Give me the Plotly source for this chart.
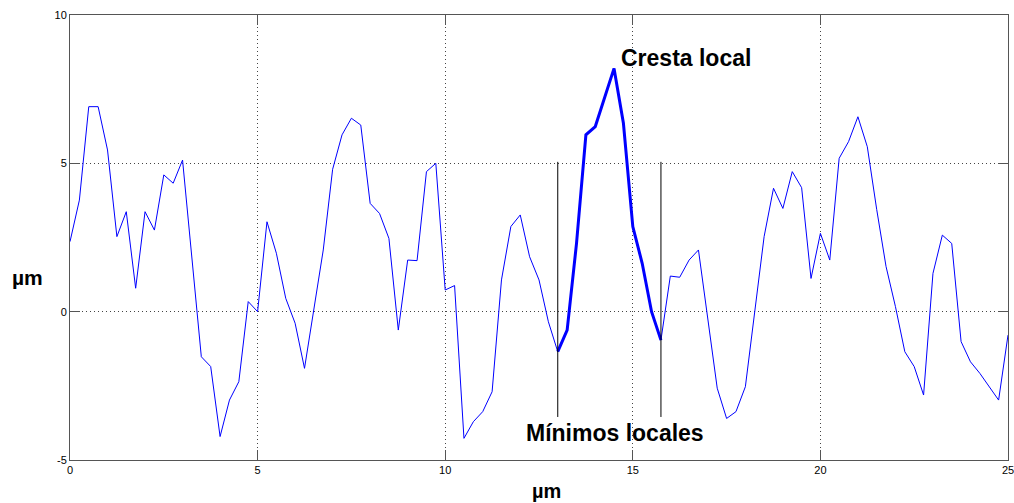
import numpy as np
import plotly.graph_objects as go

# Surface profile sampled every 0.25 µm over 25 µm
step_um = 0.25
height_um = [
    2.36, 3.76, 6.91, 6.91, 5.45, 2.53, 3.37, 0.79, 3.37, 2.75,
    4.61, 4.33, 5.11, 1.90, -1.52, -1.85, -4.21, -2.98, -2.36, 0.34,
    0.00, 3.03, 1.97, 0.45, -0.39, -1.91, 0.06, 2.08, 4.80, 5.96,
    6.52, 6.29, 3.65, 3.31, 2.47, -0.62, 1.74, 1.72, 4.72, 5.00,
    0.73, 0.88, -4.27, -3.71, -3.37, -2.70, 1.07, 2.87, 3.26, 1.85,
    1.07, -0.34, -1.35, -0.62, 2.30, 5.96, 6.24, 7.25, 8.20, 6.35,
    2.87, 1.63, 0.00, -0.96, 1.20, 1.16, 1.74, 2.08, -0.28, -2.58,
    -3.60, -3.37, -2.53, -0.06, 2.53, 4.16, 3.48, 4.72, 4.18, 1.12,
    2.64, 1.74, 5.17, 5.73, 6.57, 5.56, 3.45, 1.52, 0.17, -1.35,
    -1.85, -2.81, 1.29, 2.58, 2.30, -1.01, -1.69, -2.08, -2.53, -2.98,
    -0.79,
]
position_um = np.arange(len(height_um)) * step_um

# Local minima bounding the highlighted crest
minima_x = [13.0, 15.75]
minima_line_top = 5.05
minima_line_bottom = -3.55

x_ticks = [0, 5, 10, 15, 20, 25]
y_ticks = [-5, 0, 5, 10]

y = np.array(height_um)
crest_mask = (position_um >= minima_x[0]) & (position_um <= minima_x[1])

fig = go.Figure()

fig.add_trace(go.Scatter(
    x=position_um, y=y, mode="lines",
    line=dict(color="#0000ff", width=1), hoverinfo="skip",
))
fig.add_trace(go.Scatter(
    x=position_um[crest_mask], y=y[crest_mask], mode="lines",
    line=dict(color="#0000ff", width=3), hoverinfo="skip",
))
for mx in minima_x:
    fig.add_trace(go.Scatter(
        x=[mx, mx], y=[minima_line_top, minima_line_bottom], mode="lines",
        line=dict(color="black", width=1), hoverinfo="skip",
    ))

label_font = dict(family="Liberation Sans, Arial, sans-serif", size=23, color="black")

fig.add_annotation(
    x=14.64, y=8.55, xref="x", yref="y", text="<b>Cresta local</b>",
    showarrow=False, xanchor="left", yanchor="middle", font=label_font,
)
fig.add_annotation(
    x=12.1, y=-4.09, xref="x", yref="y", text="<b>Mínimos locales</b>",
    showarrow=False, xanchor="left", yanchor="middle", font=label_font,
)
# Axis titles
fig.add_annotation(
    x=27, y=277, xref="paper", yref="paper", text="<b>µm</b>",
    showarrow=False, xanchor="center", yanchor="middle", font=dict(label_font, size=21),
)
fig.add_annotation(
    x=546, y=491, xref="paper", yref="paper", text="<b>µm</b>",
    showarrow=False, xanchor="center", yanchor="middle", font=dict(label_font, size=20),
)

axis_common = dict(
    showline=True, linecolor="#555555", linewidth=1, mirror="ticks",
    ticks="inside", ticklen=10, tickcolor="#555555", tickwidth=1,
    showgrid=True, gridcolor="#444444", griddash="1px,3px", gridwidth=1,
    zeroline=False, ticklabeloverflow="allow", automargin=False,
    tickfont=dict(family="Liberation Sans, Arial, sans-serif", size=11, color="black"),
)

W, H = 1014, 503
ml, mr, mt, mb = 70, 6, 15, 43

fig.update_xaxes(range=[0, 25.0001], tickvals=x_ticks, ticktext=[str(v) for v in x_ticks], **axis_common)
fig.update_yaxes(range=[-5.0001, 10.0001], tickvals=y_ticks, ticktext=[str(v) for v in y_ticks], **axis_common)

fig.update_layout(
    width=W, height=H, showlegend=False,
    margin=dict(l=ml, r=mr, t=mt, b=mb, autoexpand=False),
    paper_bgcolor="white", plot_bgcolor="white",
)

# Convert pixel positions of the axis titles to paper coordinates
pw, ph = W - ml - mr, H - mt - mb
for ann in fig.layout.annotations:
    if ann.xref == "paper":
        ann.x = (ann.x - ml) / pw
        ann.y = 1 - (ann.y - mt) / ph

fig.write_html("out.html")
